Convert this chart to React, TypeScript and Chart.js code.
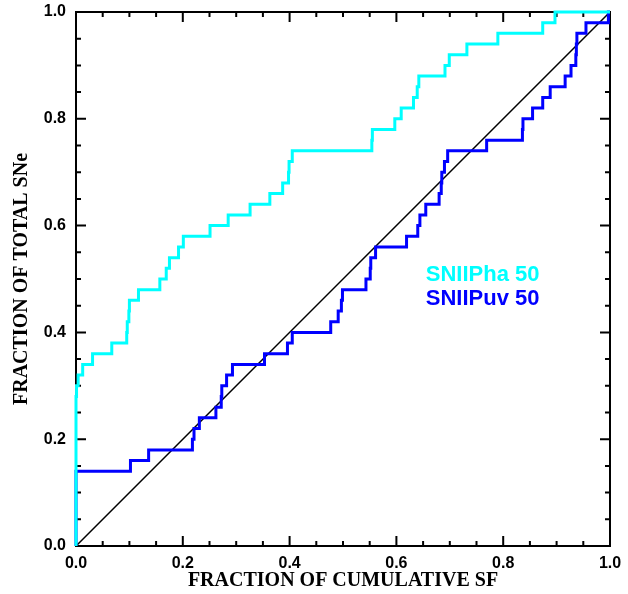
import { useEffect, useRef } from "react";
import { Chart, registerables } from "chart.js";

Chart.register(...registerables);

// SNIIPha 50 cumulative distribution (x = fraction of cumulative SF, y = fraction of SNe after the step)
const haX = [0, 0.0, 0.001, 0.004, 0.0125, 0.031, 0.067, 0.095, 0.096, 0.099, 0.1, 0.117, 0.157, 0.169, 0.175, 0.192, 0.201, 0.251, 0.285, 0.326, 0.363, 0.387, 0.398, 0.399, 0.405, 0.554, 0.555, 0.597, 0.609, 0.632, 0.639, 0.642, 0.691, 0.699, 0.732, 0.79, 0.874, 0.897, 1.0];
const haY = [0, 0.28, 0.3, 0.32, 0.34, 0.36, 0.38, 0.4, 0.42, 0.44, 0.46, 0.48, 0.5, 0.52, 0.54, 0.56, 0.58, 0.6, 0.62, 0.64, 0.66, 0.68, 0.7, 0.72, 0.74, 0.76, 0.78, 0.8, 0.82, 0.84, 0.86, 0.88, 0.9, 0.92, 0.94, 0.96, 0.98, 1.0, 1.0];

// SNIIPuv 50 cumulative distribution
const uvX = [0, 0, 0.102, 0.136, 0.218, 0.221, 0.231, 0.262, 0.272, 0.273, 0.282, 0.293, 0.353, 0.396, 0.405, 0.477, 0.491, 0.497, 0.499, 0.543, 0.551, 0.552, 0.561, 0.619, 0.64, 0.644, 0.655, 0.68, 0.684, 0.685, 0.69, 0.696, 0.769, 0.836, 0.837, 0.855, 0.874, 0.888, 0.916, 0.927, 0.936, 0.937, 0.938, 0.955, 0.997, 1.0];
const uvY = [0, 0.14, 0.16, 0.18, 0.2, 0.22, 0.24, 0.26, 0.28, 0.3, 0.32, 0.34, 0.36, 0.38, 0.4, 0.42, 0.44, 0.46, 0.48, 0.5, 0.52, 0.54, 0.56, 0.58, 0.6, 0.62, 0.64, 0.66, 0.68, 0.7, 0.72, 0.74, 0.76, 0.78, 0.8, 0.82, 0.84, 0.86, 0.88, 0.9, 0.92, 0.94, 0.96, 0.98, 1.0, 1.0];

// one-to-one reference line
const diagX = [0, 1];
const diagY = [0, 1];

const legendLabels = ["SNIIPha 50", "SNIIPuv 50"];
const legendColors = ["#00ffff", "#0000ff"];
const legendAnchorX = 0.655;
const legendAnchorY = [0.496, 0.451];

const xTitle = "FRACTION OF CUMULATIVE SF";
const yTitle = "FRACTION OF TOTAL SNe";

const toPoints = (xs: number[], ys: number[]) => xs.map((x, i) => ({ x, y: ys[i] }));

const framePlugin = {
  id: "frameTicks",
  beforeDatasetsDraw(chart: any) {
    const { ctx, chartArea: a, scales } = chart;
    const x = scales.x;
    const y = scales.y;
    ctx.save();
    ctx.strokeStyle = "#000";
    ctx.lineWidth = 2;
    ctx.strokeRect(a.left, a.top, a.right - a.left, a.bottom - a.top);
    ctx.beginPath();
    for (let i = 0; i <= 20; i++) {
      const v = i * 0.05;
      const len = i % 4 === 0 ? 10 : 5;
      const px = x.getPixelForValue(v);
      const py = y.getPixelForValue(v);
      ctx.moveTo(px, a.bottom);
      ctx.lineTo(px, a.bottom - len);
      ctx.moveTo(px, a.top);
      ctx.lineTo(px, a.top + len);
      ctx.moveTo(a.left, py);
      ctx.lineTo(a.left + len, py);
      ctx.moveTo(a.right, py);
      ctx.lineTo(a.right - len, py);
    }
    ctx.stroke();
    ctx.restore();
  },
  afterDatasetsDraw(chart: any) {
    const { ctx, scales } = chart;
    const x = scales.x;
    const y = scales.y;
    ctx.save();
    ctx.font = "bold 22px 'Liberation Sans', Arial, sans-serif";
    ctx.textAlign = "left";
    ctx.textBaseline = "alphabetic";
    legendLabels.forEach((t, i) => {
      ctx.fillStyle = legendColors[i];
      ctx.fillText(t, x.getPixelForValue(legendAnchorX), y.getPixelForValue(legendAnchorY[i]));
    });
    ctx.restore();
  },
};

export default function App() {
  const ref = useRef<HTMLCanvasElement | null>(null);

  useEffect(() => {
    if (!ref.current) return;
    const tickFont = { family: "'Liberation Sans', Arial, sans-serif", size: 16, weight: "bold" as const };
    const titleFont = { family: "'Liberation Serif', 'Times New Roman', serif", size: 20, weight: "bold" as const };
    const chart = new Chart(ref.current, {
      type: "scatter",
      data: {
        datasets: [
          {
            data: toPoints(haX, haY),
            showLine: true,
            stepped: true,
            borderColor: legendColors[0],
            backgroundColor: legendColors[0],
            borderWidth: 3,
            pointRadius: 0,
            fill: false,
            clip: 4,
          },
          {
            data: toPoints(uvX, uvY),
            showLine: true,
            stepped: true,
            borderColor: legendColors[1],
            backgroundColor: legendColors[1],
            borderWidth: 3,
            pointRadius: 0,
            fill: false,
            clip: 4,
          },
          {
            data: toPoints(diagX, diagY),
            showLine: true,
            borderColor: "#000",
            borderWidth: 1.5,
            pointRadius: 0,
            fill: false,
          },
        ],
      },
      options: {
        animation: false,
        responsive: true,
        maintainAspectRatio: false,
        layout: { padding: { top: 12, right: 18, left: 0, bottom: 0 } },
        plugins: { legend: { display: false }, tooltip: { enabled: false } },
        scales: {
          x: {
            type: "linear",
            min: 0,
            max: 1,
            grid: { display: false, drawTicks: false },
            border: { display: false },
            ticks: {
              stepSize: 0.2,
              color: "#000",
              font: tickFont,
              padding: 8,
              maxRotation: 0,
              callback: (v: any) => Number(v).toFixed(1),
            },
            title: { display: true, text: xTitle, color: "#000", font: titleFont, padding: { top: 0, bottom: 1 } },
            afterFit: (s: any) => {
              s.height = 48;
              s.paddingLeft = 0;
              s.paddingRight = 0;
            },
          },
          y: {
            type: "linear",
            min: 0,
            max: 1,
            grid: { display: false, drawTicks: false },
            border: { display: false },
            ticks: {
              stepSize: 0.2,
              color: "#000",
              font: tickFont,
              padding: 10,
              callback: (v: any) => Number(v).toFixed(1),
            },
            title: { display: true, text: yTitle, color: "#000", font: titleFont, padding: { top: 10, bottom: 0 } },
            afterFit: (s: any) => {
              s.width = 76;
              s.paddingTop = 0;
              s.paddingBottom = 0;
            },
          },
        },
      },
      plugins: [framePlugin],
    });
    return () => chart.destroy();
  }, []);

  return (
    <div style={{ position: "absolute", left: 0, top: 0, width: 628, height: 594, background: "#fff" }}>
      <canvas ref={ref} />
    </div>
  );
}
